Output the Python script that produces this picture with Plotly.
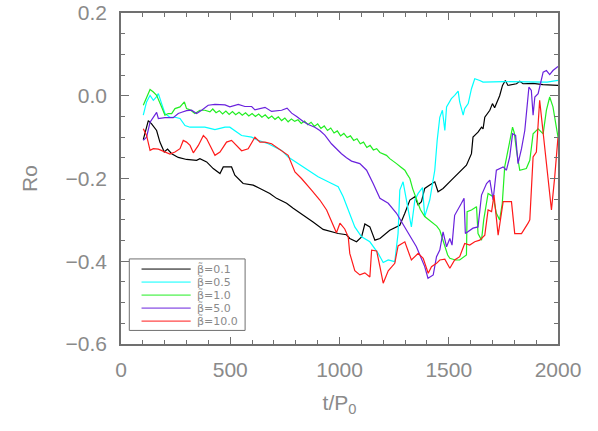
import plotly.graph_objects as go

# ---------------- data ----------------
names = ["β̃=0.1", "β̃=0.5", "β̃=1.0", "β̃=5.0", "β̃=10.0"]
colors = ["#000000", "#00ffff", "#22ee22", "#6a22dd", "#ff1a1a"]

t_b01 = [102, 125, 140, 163, 178, 198, 213, 232, 262, 300, 346, 361, 392, 422, 453, 468, 506, 521,
         559, 605, 636, 681, 712, 758, 788, 834, 879, 925, 971, 994, 1032, 1047, 1078, 1101, 1116,
         1139, 1162, 1185, 1230, 1276, 1299, 1322, 1345, 1360, 1375, 1390, 1413, 1436, 1451, 1474,
         1512, 1543, 1581, 1604, 1611, 1634, 1650, 1657, 1665, 1688, 1700, 1710, 1733, 1746, 1759,
         1771, 1810, 1825, 1840, 1886, 1931, 2000]
ro_b01 = [-0.106, -0.060, -0.068, -0.084, -0.112, -0.136, -0.129, -0.140, -0.149, -0.154, -0.156,
          -0.152, -0.160, -0.176, -0.188, -0.172, -0.172, -0.192, -0.212, -0.216, -0.224, -0.236,
          -0.248, -0.260, -0.272, -0.288, -0.305, -0.323, -0.329, -0.333, -0.336, -0.345, -0.353,
          -0.341, -0.310, -0.317, -0.349, -0.345, -0.325, -0.313, -0.284, -0.252, -0.244, -0.264,
          -0.256, -0.224, -0.216, -0.208, -0.232, -0.224, -0.204, -0.188, -0.168, -0.140, -0.100,
          -0.088, -0.076, -0.080, -0.052, -0.035, -0.019, -0.029, 0.000, 0.025, 0.037, 0.025,
          0.029, 0.035, 0.029, 0.030, 0.027, 0.025]

t_b05 = [102, 117, 133, 148, 163, 171, 186, 201, 224, 247, 270, 293, 316, 354, 384, 430, 476, 498,
         521, 552, 598, 628, 674, 735, 765, 811, 857, 902, 948, 994, 1017, 1040, 1070, 1101, 1139,
         1177, 1200, 1223, 1253, 1268, 1276, 1291, 1307, 1329, 1345, 1360, 1380, 1390, 1413, 1436,
         1447, 1459, 1471, 1482, 1490, 1512, 1527, 1543, 1550, 1566, 1573, 1589, 1604, 1619, 1642,
         1657, 1750, 1850, 1950, 2000]
ro_b05 = [-0.047, -0.015, 0.001, -0.011, -0.002, 0.005, -0.019, -0.043, -0.052, -0.052, -0.055,
          -0.072, -0.076, -0.076, -0.076, -0.082, -0.076, -0.076, -0.084, -0.096, -0.100, -0.108,
          -0.116, -0.132, -0.148, -0.164, -0.180, -0.196, -0.208, -0.220, -0.244, -0.276, -0.317,
          -0.341, -0.353, -0.381, -0.403, -0.397, -0.401, -0.333, -0.228, -0.208, -0.252, -0.317,
          -0.252, -0.236, -0.222, -0.292, -0.252, -0.180, -0.108, -0.052, -0.035, -0.084, -0.027,
          -0.007, 0.001, 0.011, -0.015, -0.047, -0.031, -0.019, 0.017, 0.041, 0.037, 0.033, 0.034,
          0.033, 0.033, 0.037]

t_b1 = [102, 117, 133, 148, 163, 186, 201, 216, 232, 247, 270, 290, 300, 316, 338, 361, 384, 407,
        420, 435, 450, 465, 480, 495, 510, 525, 540, 555, 570, 585, 600, 615, 630, 645, 660, 675,
        690, 705, 720, 735, 750, 765, 780, 795, 810, 825, 840, 855, 870, 885, 900, 915, 930, 945,
        960, 975, 990, 1005, 1020, 1035, 1050, 1065, 1080, 1095, 1110, 1125, 1140, 1155, 1170,
        1185, 1200, 1215, 1230, 1245, 1261, 1280, 1299, 1310, 1322, 1335, 1352, 1370, 1390, 1410,
        1429, 1445, 1459, 1470, 1482, 1495, 1505, 1530, 1550, 1570, 1581, 1584, 1604, 1627, 1634,
        1650, 1660, 1680, 1703, 1718, 1733, 1745, 1756, 1792, 1800, 1810, 1825, 1855, 1871, 1886,
        1909, 1932, 1947, 1962, 1977, 2000]
ro_b1 = [-0.023, -0.003, 0.015, 0.009, 0.001, -0.027, -0.047, -0.043, -0.043, -0.031, -0.027,
         -0.015, -0.031, -0.034, -0.043, -0.035, -0.035, -0.039, -0.032, -0.041, -0.036, -0.044,
         -0.037, -0.045, -0.038, -0.046, -0.040, -0.047, -0.041, -0.049, -0.043, -0.050, -0.044,
         -0.052, -0.046, -0.055, -0.049, -0.057, -0.051, -0.060, -0.054, -0.063, -0.056, -0.062,
         -0.058, -0.067, -0.061, -0.070, -0.064, -0.074, -0.068, -0.079, -0.073, -0.084, -0.078,
         -0.090, -0.085, -0.097, -0.091, -0.101, -0.097, -0.108, -0.104, -0.116, -0.112, -0.125,
         -0.120, -0.131, -0.128, -0.137, -0.140, -0.144, -0.152, -0.157, -0.164, -0.172, -0.180,
         -0.190, -0.200, -0.225, -0.252, -0.275, -0.292, -0.300, -0.308, -0.315, -0.325, -0.345,
         -0.365, -0.385, -0.393, -0.397, -0.397, -0.390, -0.385, -0.280, -0.276, -0.268, -0.333,
         -0.349, -0.300, -0.236, -0.244, -0.284, -0.300, -0.260, -0.172, -0.076, -0.090, -0.132,
         -0.180, -0.176, -0.156, -0.092, -0.080, -0.092, -0.035, -0.003, -0.027, -0.100]

t_b5 = [102, 117, 133, 148, 163, 171, 201, 239, 262, 278, 300, 323, 346, 369, 399, 430, 476, 498,
        537, 567, 598, 613, 659, 689, 735, 760, 781, 804, 834, 860, 887, 910, 933, 963, 985, 1009,
        1032, 1055, 1093, 1124, 1154, 1185, 1223, 1261, 1307, 1352, 1390, 1405, 1429, 1444, 1459,
        1474, 1490, 1505, 1515, 1527, 1558, 1570, 1576, 1611, 1634, 1650, 1673, 1688, 1703, 1718,
        1749, 1764, 1779, 1792, 1806, 1817, 1833, 1848, 1867, 1878, 1886, 1894, 1909, 1932, 1947,
        1962, 1977, 2000]
ro_b5 = [-0.108, -0.100, -0.064, -0.052, -0.040, -0.055, -0.053, -0.053, -0.043, -0.040, -0.036,
         -0.035, -0.043, -0.035, -0.023, -0.021, -0.022, -0.027, -0.021, -0.026, -0.026, -0.034,
         -0.028, -0.038, -0.035, -0.030, -0.042, -0.050, -0.062, -0.070, -0.076, -0.084, -0.095,
         -0.116, -0.128, -0.140, -0.150, -0.158, -0.164, -0.180, -0.212, -0.248, -0.260, -0.284,
         -0.325, -0.365, -0.413, -0.441, -0.433, -0.389, -0.373, -0.329, -0.365, -0.345, -0.361,
         -0.289, -0.260, -0.248, -0.333, -0.320, -0.317, -0.240, -0.212, -0.204, -0.252, -0.180,
         -0.172, -0.180, -0.148, -0.092, -0.096, -0.164, -0.128, -0.084, 0.021, 0.013, -0.047,
         -0.003, 0.005, 0.057, 0.061, 0.051, 0.061, 0.071]

t_b10 = [102, 117, 133, 148, 171, 201, 224, 247, 270, 285, 300, 316, 331, 354, 377, 392, 407, 430,
         453, 483, 506, 529, 552, 582, 613, 636, 659, 689, 735, 765, 796, 826, 872, 910, 941, 971,
         986, 1002, 1024, 1040, 1047, 1070, 1093, 1116, 1139, 1147, 1170, 1185, 1200, 1223, 1253,
         1268, 1299, 1329, 1360, 1383, 1406, 1421, 1444, 1459, 1482, 1505, 1527, 1550, 1573, 1596,
         1619, 1642, 1665, 1680, 1696, 1707, 1726, 1749, 1787, 1802, 1833, 1863, 1871, 1886, 1901,
         1916, 1939, 1970, 1985, 2000]
ro_b10 = [-0.080, -0.096, -0.132, -0.128, -0.129, -0.136, -0.141, -0.136, -0.128, -0.108, -0.112,
          -0.120, -0.138, -0.120, -0.096, -0.104, -0.120, -0.144, -0.136, -0.112, -0.108, -0.120,
          -0.133, -0.128, -0.100, -0.112, -0.112, -0.116, -0.132, -0.144, -0.184, -0.200, -0.228,
          -0.252, -0.276, -0.313, -0.331, -0.308, -0.322, -0.341, -0.381, -0.423, -0.433, -0.428,
          -0.438, -0.373, -0.375, -0.413, -0.453, -0.423, -0.405, -0.363, -0.353, -0.397, -0.381,
          -0.393, -0.429, -0.413, -0.405, -0.397, -0.395, -0.417, -0.397, -0.389, -0.357, -0.361,
          -0.353, -0.349, -0.337, -0.276, -0.280, -0.240, -0.337, -0.256, -0.256, -0.333, -0.333,
          -0.308, -0.300, -0.148, -0.136, -0.011, -0.128, -0.276, -0.196, -0.100]

series_t = [t_b01, t_b05, t_b1, t_b5, t_b10]
series_ro = [ro_b01, ro_b05, ro_b1, ro_b5, ro_b10]

x_ticks = [0, 500, 1000, 1500, 2000]
y_ticks = [-0.6, -0.4, -0.2, 0.0, 0.2]
y_ticktext = ["−0.6", "−0.4", "−0.2", "0.0", "0.2"]
x_range = [0, 2000]
y_range = [-0.6, 0.2]

# ---------------- figure ----------------
GRAY = "#8a8a8a"
LINE_GRAY = "#707070"
FONT = "Liberation Sans"

fig = go.Figure()
for t, ro, nm, c in zip(series_t, series_ro, names, colors):
    fig.add_trace(go.Scatter(x=t, y=ro, mode="lines", name=nm,
                             line=dict(color=c, width=1.2), showlegend=False))

fig.update_layout(
    xaxis=dict(range=x_range, tickvals=x_ticks, showline=True, linecolor=LINE_GRAY,
               linewidth=1.5, mirror="allticks", ticks="inside", ticklen=7,
               tickcolor=LINE_GRAY, tickwidth=1,
               minor=dict(dtick=100, ticks="inside", ticklen=4, tickcolor=LINE_GRAY),
               showgrid=False, zeroline=False, automargin=False, ticklabelstandoff=6,
               tickfont=dict(family=FONT, size=21, color=GRAY),
               title=dict(text="t/P<sub>0</sub>", font=dict(family=FONT, size=21, color=GRAY),
                          standoff=15)),
    yaxis=dict(range=y_range, tickvals=y_ticks, ticktext=y_ticktext, showline=True,
               linecolor=LINE_GRAY, linewidth=1.5, mirror="allticks", ticks="inside",
               ticklen=8, tickcolor=LINE_GRAY, tickwidth=1,
               minor=dict(dtick=0.05, ticks="inside", ticklen=4, tickcolor=LINE_GRAY),
               showgrid=False, zeroline=False, automargin=False, ticklabelstandoff=8,
               tickfont=dict(family=FONT, size=21, color=GRAY),
               title=dict(text="Ro", font=dict(family=FONT, size=21, color=GRAY), standoff=22)),
)

# manual compact legend (IDL style)
box_x0, box_x1, box_y0, box_y1 = 0.019, 0.284, 0.041, 0.257
fig.add_shape(type="rect", xref="paper", yref="paper", x0=box_x0, x1=box_x1,
              y0=box_y0, y1=box_y1, line=dict(color=LINE_GRAY, width=1), fillcolor="white")
row_top, row_step = 0.2264, 0.0393
for i, (nm, c) in enumerate(zip(names, colors)):
    yy = row_top - i * row_step
    fig.add_shape(type="line", xref="paper", yref="paper", x0=0.047, x1=0.1595,
                  y0=yy, y1=yy, line=dict(color=c, width=1))
    fig.add_annotation(xref="paper", yref="paper", x=0.172, y=yy, text=nm, showarrow=False,
                       xanchor="left", yanchor="middle", borderpad=0,
                       font=dict(family="DejaVu Sans", size=11, color=GRAY))

fig.update_layout(width=598, height=431, margin=dict(l=121, r=40, t=13, b=87, autoexpand=False),
                  paper_bgcolor="white", plot_bgcolor="white")

fig.write_html("out.html", post_script="document.body.style.margin='0';",
               config={"displayModeBar": False})
